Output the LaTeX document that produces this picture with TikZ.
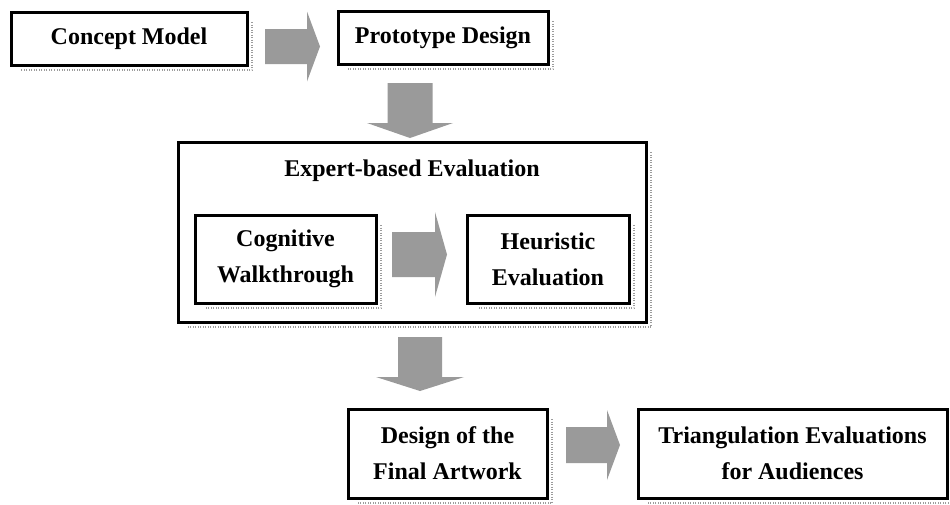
\documentclass[tikz,border=0pt]{standalone}
\usepackage{fontspec}
\setmainfont{Liberation Serif}
\usetikzlibrary{calc}

\definecolor{arrowgray}{HTML}{9A9A9A}
\definecolor{shadowgray}{HTML}{9C9C9C}

\tikzset{
  stagebox/.style={draw=black, line width=3pt, fill=white, rectangle,
    inner sep=0pt, outer sep=0pt, align=center,
    font=\fontsize{24}{36}\selectfont\bfseries},
  boxtitle/.style={inner sep=0pt, font=\fontsize{24}{36}\selectfont\bfseries},
  shadowline/.style={draw=shadowgray, line width=2pt,
    dash pattern=on 1pt off 1.5pt},
  % block arrow between two coordinates: shaft half width, head half width, head length
  blockarrow/.style n args={3}{fill=arrowgray, draw=none, to path={
    ($(\tikztostart)!#1!90:(\tikztotarget)$)
    -- ($($(\tikztotarget)!#3!(\tikztostart)$)!#1!90:(\tikztotarget)$)
    -- ($($(\tikztotarget)!#3!(\tikztostart)$)!#2!90:(\tikztotarget)$)
    -- (\tikztotarget)
    -- ($($(\tikztotarget)!#3!(\tikztostart)$)!#2!-90:(\tikztotarget)$)
    -- ($($(\tikztotarget)!#3!(\tikztostart)$)!#1!-90:(\tikztotarget)$)
    -- ($(\tikztostart)!#1!-90:(\tikztotarget)$) -- cycle}}
}

% dotted drop shadow along the right and bottom edges of a box
\newcommand\boxshadow[1]{%
  \draw[shadowline] ([xshift=5pt,yshift=-10pt]#1.north east)
    -- ([xshift=5pt,yshift=-5pt]#1.south east)
    -- ([xshift=10pt,yshift=-5pt]#1.south west);}

\begin{document}
\begin{tikzpicture}[x=1pt, y=-1pt]
  \useasboundingbox (0,0) rectangle (950,504);

  % outer frame for the expert review stage
  \node[stagebox, minimum width=468pt, minimum height=180pt] (expert) at (412,232) {};
  \boxshadow{expert}
  \node[boxtitle] (experttitle) at (412,171) {Expert-based Evaluation};

  % process stages
  \node[stagebox, minimum width=236pt, minimum height=53pt] (concept) at (129,38.5) {Concept Model};
  \node[stagebox, minimum width=210pt, minimum height=53pt] (proto) at (443,37.5) {Prototype Design};
  \node[stagebox, minimum width=181pt, minimum height=88pt] (cogwalk) at (285.5,259) {Cognitive\\Walkthrough};
  \node[stagebox, minimum width=162pt, minimum height=88pt] (heur) at (548,259) {Heuristic\\Evaluation};
  \node[stagebox, minimum width=199pt, minimum height=89pt] (final) at (447.5,453.5) {Design of the\\Final Artwork};
  \node[stagebox, minimum width=309pt, minimum height=89pt] (triang) at (792.5,453.5) {Triangulation Evaluations\\for Audiences};

  \foreach \b in {concept, proto, cogwalk, heur, final, triang} {\boxshadow{\b}}

  % arrow end points
  \coordinate (a1s) at (265,46.5);  \coordinate (a1t) at (320,46.5);
  \coordinate (a2s) at (410,83);    \coordinate (a2t) at (410,138);
  \coordinate (a3s) at (392,254.5); \coordinate (a3t) at (447,254.5);
  \coordinate (a4s) at (420,337);   \coordinate (a4t) at (420,391);
  \coordinate (a5s) at (566,445);   \coordinate (a5t) at (620,445);

  % block arrows
  \path[blockarrow={17.5pt}{35pt}{13pt}] (a1s) to (a1t);
  \path[blockarrow={22.5pt}{43pt}{15pt}] (a2s) to (a2t);
  \path[blockarrow={22.5pt}{42.5pt}{12pt}] (a3s) to (a3t);
  \path[blockarrow={22pt}{44pt}{14pt}] (a4s) to (a4t);
  \path[blockarrow={18pt}{35pt}{13pt}] (a5s) to (a5t);
\end{tikzpicture}
\end{document}
